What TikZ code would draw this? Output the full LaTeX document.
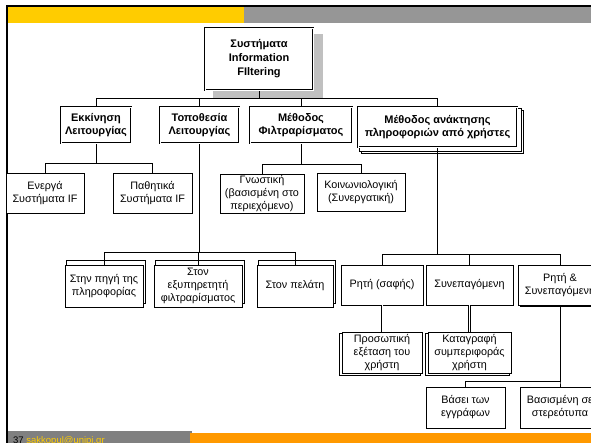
\documentclass[tikz,border=0pt]{standalone}
\usepackage{fontspec}
\setmainfont{Liberation Sans}
\usetikzlibrary{backgrounds}
\definecolor{slideYellow}{HTML}{FFCC00}
\definecolor{slideGray}{HTML}{969696}
\definecolor{footGray}{HTML}{808080}
\definecolor{slideOrange}{HTML}{FF9900}
\definecolor{shadowGray}{HTML}{C0C0C0}

\begin{document}
\begin{tikzpicture}[
  x=1pt, y=-1pt,
  wh/.style 2 args={minimum width=#1, minimum height=#2},
  box/.style={draw, fill=white, line width=0.8pt, inner sep=0pt, align=center,
              font=\fontsize{10.8}{13}\selectfont},
  head/.style={box, line width=2.8pt, postaction={draw=white, fill=none, line width=0.9pt},
               font=\fontsize{11}{13.5}\selectfont\bfseries},
  backbox/.style={draw, fill=white, line width=0.6pt},
  link/.style={line width=0.8pt},
  twinlink/.style={line width=2.4pt, postaction={draw=white, line width=0.8pt}}
]
  \useasboundingbox (0,0) rectangle (591,443);
  \clip (0,0) rectangle (591,443);

  % Slide frame
  \fill[slideYellow] (8,7) rectangle (244,23);
  \fill[slideGray] (244,7) rectangle (591,23);
  \fill[footGray] (8,431) rectangle (192,443);
  \fill[slideOrange] (190,433) rectangle (591,443);
  \draw[line width=2pt] (7,443) -- (7,6) -- (591,6);
  \node[anchor=north west, inner sep=0pt, font=\fontsize{9.5}{9.5}\selectfont] (page) at (13,436.5)
    {37\ \textcolor{slideYellow}{sakkopul@unipi.gr}};

  % Root
  \node[head, wh={108}{62}, font=\fontsize{11}{14}\selectfont\bfseries] (root) at (259,59)
    {Συστήματα\\Information\\FIltering};

  % First level
  \node[head, wh={70}{36}] (ekk) at (96,125) {Εκκίνηση\\Λειτουργίας};
  \node[head, wh={79}{36}] (topo) at (199.5,125) {Τοποθεσία\\Λειτουργίας};
  \node[head, wh={102}{36}] (meth) at (301,125) {Μέθοδος\\Φιλτραρίσματος};
  \node[head, wh={159}{40}] (anakt) at (437.5,127) {Μέθοδος ανάκτησης\\πληροφοριών από χρήστες};

  % Under Εκκίνηση / Μέθοδος
  \node[box, wh={78}{40}] (energa) at (45,193) {Ενεργά\\Συστήματα IF};
  \node[box, wh={79}{40}] (pathit) at (152.5,193) {Παθητικά\\Συστήματα IF};
  \node[box, wh={84}{39}] (gnost) at (262,193.5) {Γνωστική\\(βασισμένη στο\\περιεχόμενο)};
  \node[box, wh={88}{38}] (koinon) at (361,192) {Κοινωνιολογική\\(Συνεργατική)};

  % Under Τοποθεσία
  \node[box, wh={78}{42}] (pigi) at (104,286) {Στην πηγή της\\πληροφορίας};
  \node[box, wh={88}{42}] (exyp) at (198,286) {Στον\\εξυπηρετητή\\φιλτραρίσματος};
  \node[box, wh={76}{42}] (pelati) at (295,286) {Στον πελάτη};

  % Under Μέθοδος ανάκτησης
  \node[box, wh={82}{40}] (rhti) at (382,285) {Ρητή (σαφής)};
  \node[box, wh={87}{40}] (synep) at (469.5,285) {Συνεπαγόμενη};
  \node[box, wh={84}{40}] (rhtisyn) at (560,285) {Ρητή \&\\Συνεπαγόμενη};
  \node[box, wh={80}{41}] (prosop) at (382,352.5) {Προσωπική\\εξέταση του\\χρήστη};
  \node[box, wh={83}{41}] (katagr) at (469.5,352.5) {Καταγραφή\\συμπεριφοράς\\χρήστη};
  \node[box, wh={79}{41}] (vasei) at (465.5,407.5) {Βάσει των\\εγγράφων};
  \node[box, wh={80}{41}] (stereo) at (560,407.5) {Βασισμένη σε\\στερεότυπα};

  % Shadows and stacked layers
  \begin{scope}[on background layer]
    \fill[shadowGray] ([shift={(9,7)}]root.south west) rectangle ([shift={(9,7)}]root.north east);
    \foreach \n in {pigi,exyp,pelati}
      \draw[backbox] ([shift={(2,-4)}]\n.south west) rectangle ([shift={(2,-4)}]\n.north east);
    \foreach \n in {prosop,katagr}
      \draw[backbox] ([shift={(-2,2)}]\n.south west) rectangle ([shift={(-2,2)}]\n.north east);
    \foreach \s in {5,3}
      \draw[backbox] ([shift={(\s,\s)}]anakt.south west) rectangle ([shift={(\s,\s)}]anakt.north east);
    \fill ([shift={(2,2)}]rhtisyn.south west) rectangle ([shift={(2,2)}]rhtisyn.north east);
  \end{scope}

  % Connectors
  \foreach \c in {ekk,topo,meth,anakt}
    \draw[link] (root.south) -- ++(0,7) -| (\c.north);
  \foreach \c in {energa,pathit}
    \draw[link] (ekk.south) -- ++(0,19) -| (\c.north);
  \foreach \c in {gnost,koinon}
    \draw[link] (meth.south) -- ++(0,20) -| (\c.north);
  \foreach \c in {pigi,exyp,pelati}
    \draw[link] (topo.south) -- ++(0,108) -| (\c.north);
  \foreach \c in {rhti,synep,rhtisyn}
    \draw[link] (anakt.south) -- ++(0,106) -| (\c.north);
  \draw[twinlink] (rhti.south) -- (prosop.north);
  \draw[twinlink] (synep.south) -- (katagr.north);
  \foreach \c in {vasei,stereo}
    \draw[link] (rhtisyn.south) -- ++(0,76) -| (\c.north);
\end{tikzpicture}
\end{document}
